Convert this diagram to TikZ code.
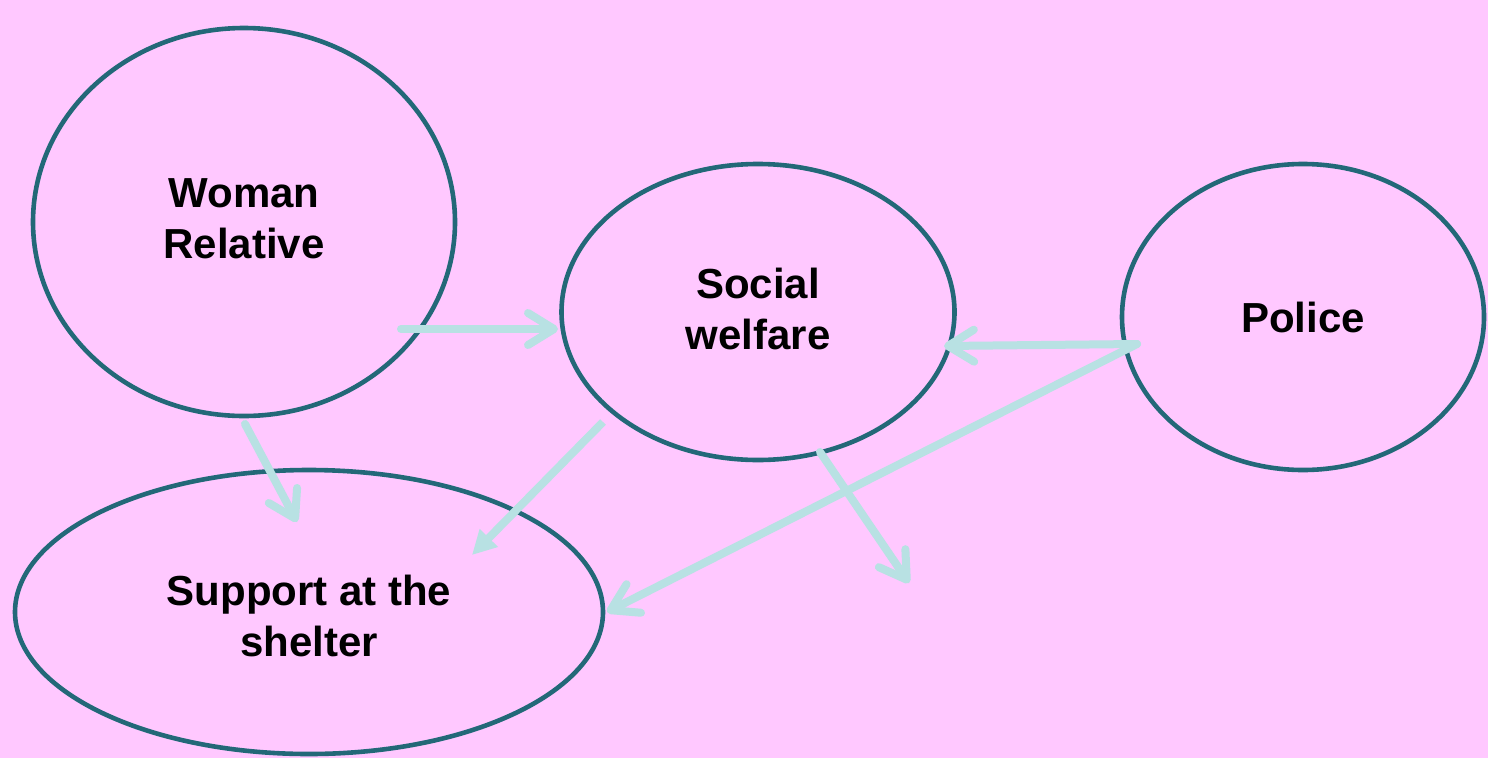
\documentclass[tikz,border=0pt]{standalone}
\usepackage{fontspec}
\setmainfont{Liberation Sans}
\usetikzlibrary{shapes.geometric,arrows.meta}
\definecolor{bgpink}{RGB}{255,200,255}
\definecolor{ringcol}{RGB}{35,104,120}
\definecolor{arrcol}{RGB}{184,225,227}
\tikzset{
  ring/.style={ellipse, draw=ringcol, line width=4.6pt, inner sep=0pt, outer sep=0pt},
  ringtext/.style={align=center, inner sep=0pt, font=\fontsize{42}{51}\selectfont\bfseries},
  vlink/.style={draw=arrcol, line width=8pt, line cap=round,
    -{Straight Barb[length=26pt,width=32pt,round]}},
  tlink/.style={draw=arrcol, line width=8pt,
    -{Triangle[length=24pt,width=24pt]}}
}
\begin{document}
\begin{tikzpicture}[x=1pt,y=-1pt]
\useasboundingbox (0,0) rectangle (1488,758);
\fill[bgpink] (0,0) rectangle (1488,758);
\node[ring, minimum width=422pt, minimum height=388pt] (wr) at (244,222) {};
\node[ring, minimum width=393pt, minimum height=296pt] (sw) at (758,312) {};
\node[ring, minimum width=362pt, minimum height=306pt] (po) at (1303,317) {};
\node[ring, minimum width=588pt, minimum height=284pt] (sp) at (309,612) {};
\node[ringtext] (wrt) at ([yshift=3pt]wr.center) {Woman\\Relative};
\node[ringtext] (swt) at ([yshift=3.5pt]sw.center) {Social\\welfare};
\node[ringtext] (pot) at (po.center) {Police};
\node[ringtext] (spt) at ([yshift=-4pt]sp.center) {Support at the\\shelter};
\coordinate (a1s) at (401,329);
\coordinate (a1e) at (558,329);
\coordinate (a2s) at (245,424);
\coordinate (a2e) at (297,522);
\coordinate (a3s) at (603,422);
\coordinate (a3e) at (472,555);
\coordinate (a4s) at (820,452);
\coordinate (a4e) at (909,583);
\coordinate (ps) at (1137,344);
\coordinate (a5e) at (944,346);
\coordinate (a6e) at (607,612);
\draw[vlink] (a1s) -- (a1e);
\draw[vlink] (a2s) -- (a2e);
\draw[tlink] (a3s) -- (a3e);
\draw[vlink] (a4s) -- (a4e);
\draw[vlink] (ps) -- (a5e);
\draw[vlink] (ps) -- (a6e);
\end{tikzpicture}
\end{document}
